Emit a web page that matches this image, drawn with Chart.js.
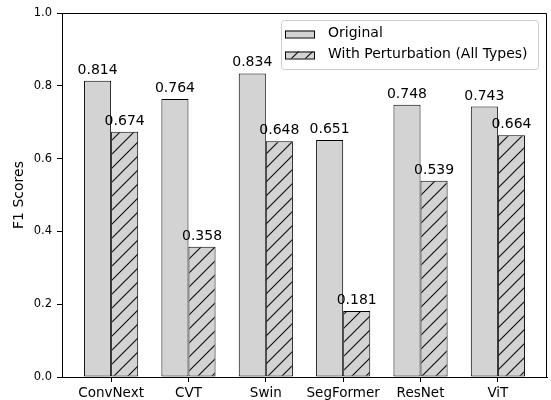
<!DOCTYPE html>
<html lang="en">
<head>
  <meta charset="UTF-8">
  <title>F1 Scores</title>
  <script src="https://cdn.jsdelivr.net/npm/chart.js"></script>
  <style>
    body { margin: 0; background: #fff; }
    #wrap { width: 551px; height: 400px; }
  </style>
</head>
<body>
  <div id="wrap"><canvas id="f1Chart" width="551" height="400"></canvas></div>
  <script>
    // data
    const models = ["ConvNext", "CVT", "Swin", "SegFormer", "ResNet", "ViT"];
    const original = [0.814, 0.764, 0.834, 0.651, 0.748, 0.743];
    const perturbed = [0.674, 0.358, 0.648, 0.181, 0.539, 0.664];
    const seriesNames = ["Original", "With Perturbation (All Types)"];
    const yTicks = [0, 0.2, 0.4, 0.6, 0.8, 1.0];

    const FONT = "'DejaVu Sans', sans-serif";
    const GRAY = "#d3d3d3";

    // "/" hatch on light gray
    function makeHatch() {
      const s = 14;
      const c = document.createElement("canvas");
      c.width = s; c.height = s;
      const g = c.getContext("2d");
      g.fillStyle = GRAY;
      g.fillRect(0, 0, s, s);
      g.strokeStyle = "#111";
      g.lineWidth = 1.2;
      g.beginPath();
      g.moveTo(-2, s + 2); g.lineTo(s + 2, -2);
      g.moveTo(-2, 2); g.lineTo(2, -2);
      g.moveTo(s - 2, s + 2); g.lineTo(s + 2, s - 2);
      g.stroke();
      return g.createPattern(c, "repeat");
    }
    const hatch = makeHatch();

    // value labels, frame and legend
    const extras = {
      id: "extras",
      afterDatasetsDraw(chart) {
        const ctx = chart.ctx;
        ctx.save();
        ctx.font = "14px " + FONT;
        ctx.fillStyle = "#000";
        ctx.textAlign = "center";
        ctx.textBaseline = "alphabetic";
        chart.data.datasets.forEach((ds, i) => {
          chart.getDatasetMeta(i).data.forEach((bar, j) => {
            ctx.fillText(ds.data[j].y.toFixed(3), bar.x, bar.y - 7);
          });
        });
        ctx.restore();
      },
      afterDraw(chart) {
        const ctx = chart.ctx;
        const a = chart.chartArea;
        ctx.save();
        ctx.strokeStyle = "#000";
        ctx.lineWidth = 1;
        ctx.beginPath();
        ctx.moveTo(Math.round(a.left) + 0.5, Math.round(a.top) + 0.5);
        ctx.lineTo(Math.round(a.right) - 0.5, Math.round(a.top) + 0.5);
        ctx.lineTo(Math.round(a.right) - 0.5, Math.round(a.bottom) + 0.5);
        ctx.stroke();

        // legend box
        const lx = 281.5, ly = 20.5, lw = 257, lh = 49, r = 3;
        ctx.beginPath();
        ctx.roundRect(lx, ly, lw, lh, r);
        ctx.fillStyle = "rgba(255,255,255,0.8)";
        ctx.fill();
        ctx.strokeStyle = "#cccccc";
        ctx.stroke();

        const fills = [GRAY, hatch];
        const rows = [37, 58];
        ctx.font = "14px " + FONT;
        ctx.textAlign = "left";
        ctx.textBaseline = "alphabetic";
        seriesNames.forEach((name, i) => {
          const sy = rows[i] - 6.5;
          ctx.fillStyle = fills[i];
          ctx.fillRect(285, sy, 29, 7);
          ctx.strokeStyle = "#000";
          ctx.strokeRect(285.5, sy + 0.5, 29, 7);
          ctx.fillStyle = "#000";
          ctx.fillText(name, 328, rows[i]);
        });
        ctx.restore();
      }
    };

    new Chart(document.getElementById("f1Chart"), {
      type: "bar",
      data: {
        datasets: [
          {
            label: seriesNames[0],
            data: original.map((v, i) => ({ x: i, y: v })),
            backgroundColor: GRAY,
            borderColor: "#000",
            borderWidth: 1,
            borderSkipped: false
          },
          {
            label: seriesNames[1],
            data: perturbed.map((v, i) => ({ x: i, y: v })),
            backgroundColor: hatch,
            borderColor: "#000",
            borderWidth: 1,
            borderSkipped: false
          }
        ]
      },
      options: {
        responsive: false,
        animation: false,
        layout: { padding: { left: 0, right: 4, top: 13, bottom: 0 } },
        categoryPercentage: 0.7,
        barPercentage: 1.0,
        plugins: { legend: { display: false }, tooltip: { enabled: false } },
        scales: {
          x: {
            type: "linear",
            offset: false,
            min: -0.635,
            max: 5.635,
            afterBuildTicks: (scale) => { scale.ticks = models.map((m, i) => ({ value: i })); },
            afterFit: (scale) => { scale.height = 23; },
            ticks: {
              autoSkip: false,
              maxRotation: 0,
              padding: 3,
              color: "#000",
              font: { family: FONT, size: 13.5 },
              callback: (v) => models[v]
            },
            grid: { offset: false, drawOnChartArea: false, tickLength: 5, color: "#000" },
            border: { color: "#000" }
          },
          y: {
            min: 0,
            max: 1,
            afterBuildTicks: (scale) => { scale.ticks = yTicks.map(v => ({ value: v })); },
            afterFit: (scale) => { scale.width = 62; },
            ticks: {
              padding: 5,
              color: "#000",
              font: { family: FONT, size: 11.5 },
              callback: (v) => Number(v).toFixed(1)
            },
            grid: { drawOnChartArea: false, tickLength: 5, color: "#000" },
            border: { color: "#000" },
            title: {
              display: true,
              text: "F1 Scores",
              color: "#000",
              font: { family: FONT, size: 14 },
              padding: { top: 11, bottom: 0 }
            }
          }
        }
      },
      plugins: [extras]
    });
  </script>
</body>
</html>
